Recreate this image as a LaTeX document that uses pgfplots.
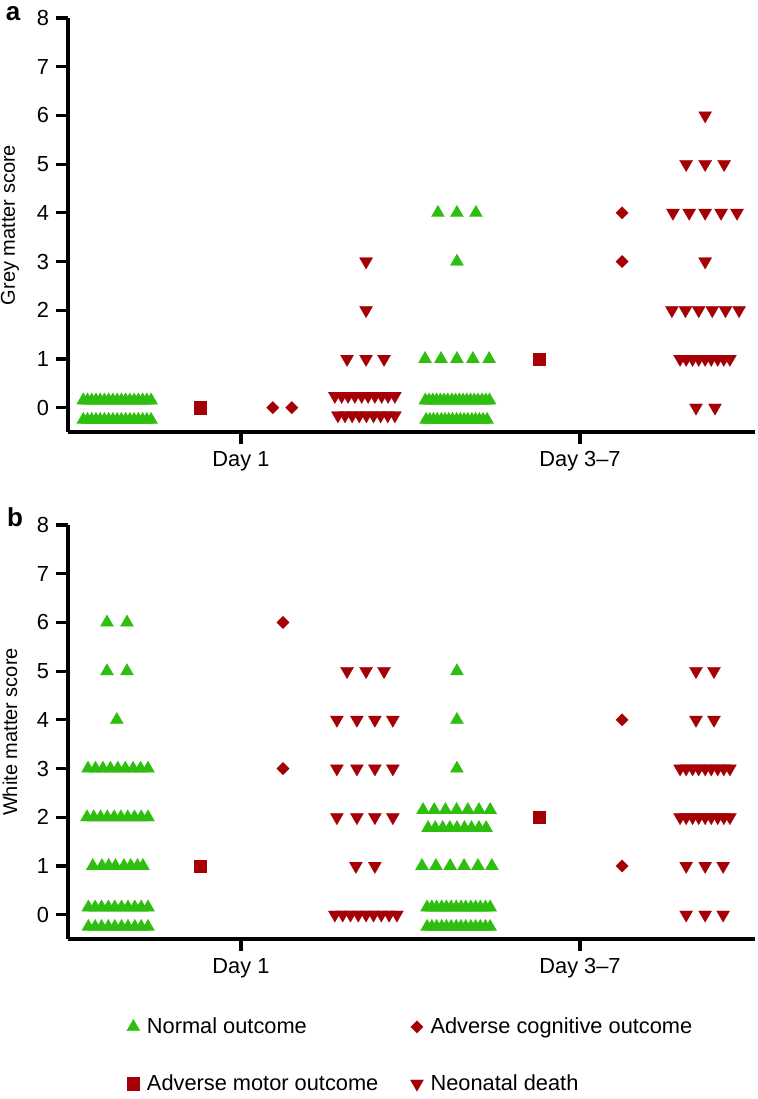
\documentclass[border=0pt]{standalone}
\usepackage{fontspec}
\setmainfont{Liberation Sans}
\usepackage{pgfplots}
\pgfplotsset{compat=1.18}
\definecolor{cgreen}{RGB}{45,190,15}
\definecolor{cred}{RGB}{165,0,5}
\pgfplotsset{
  myaxis/.style={
    scale only axis, width=343.5pt, height=207pt,
    xmin=-0.51, xmax=1.516, ymin=-0.5, ymax=8,
    axis x line=bottom, axis y line=left,
    axis line style={line width=1.6pt, -},
    x axis line style={line width=1.6pt, -},
    y axis line style={line width=1.6pt, -},
    every tick/.style={black, line width=1.6pt},
    major tick style={black, line width=1.6pt},
    tick align=outside, major tick length=6pt,
    ytick={0,1,...,8}, xtick={0,1}, xticklabels={Day 1, Day 3--7},
    /pgf/number format/assume math mode=true,
    tick label style={font=\fontsize{10.9}{13}\selectfont},
    label style={font=\fontsize{11.6}{13}\selectfont},
    every axis y label/.style={at={(axis description cs:-0.0844,0.5)}, rotate=90, anchor=center},
    clip=false,
  },
  normal/.style={only marks, mark=triangle*, mark size=3.8pt, color=cgreen, mark options={fill=cgreen, draw=cgreen, line width=0.1pt}},
  death/.style={only marks, mark=triangle*, mark size=3.8pt, color=cred, mark options={rotate=180, fill=cred, draw=cred, line width=0.1pt}},
  motor/.style={only marks, mark=square*, mark size=3.1pt, color=cred, mark options={fill=cred, draw=cred, line width=0.1pt}},
  cog/.style={only marks, mark=square*, mark size=2.2pt, color=cred, mark options={rotate=45, fill=cred, draw=cred, line width=0.1pt}},
}
\begin{document}
\begin{tikzpicture}
\useasboundingbox (0,0) rectangle (378.5pt,-549.5pt);
\node[font=\bfseries\fontsize{13}{15}\selectfont, inner sep=0pt, anchor=base] at (6.5pt,-10pt) {a};
\node[font=\bfseries\fontsize{13}{15}\selectfont, inner sep=0pt, anchor=base] at (7.5pt,-263pt) {b};
% ---------------- Panel a
\begin{axis}[myaxis, at={(34pt,-216pt)}, anchor=south west, ylabel={Grey matter score}]
\addplot[normal] table {
x y
-0.465 0.15
-0.4525 0.15
-0.44 0.15
-0.4275 0.15
-0.415 0.15
-0.4025 0.15
-0.39 0.15
-0.3775 0.15
-0.365 0.15
-0.3525 0.15
-0.34 0.15
-0.3275 0.15
-0.315 0.15
-0.3025 0.15
-0.29 0.15
-0.2775 0.15
-0.265 0.15
-0.465 -0.25
-0.4525 -0.25
-0.44 -0.25
-0.4275 -0.25
-0.415 -0.25
-0.4025 -0.25
-0.39 -0.25
-0.3775 -0.25
-0.365 -0.25
-0.3525 -0.25
-0.34 -0.25
-0.3275 -0.25
-0.315 -0.25
-0.3025 -0.25
-0.29 -0.25
-0.2775 -0.25
-0.265 -0.25
0.581 4
0.637 4
0.693 4
0.637 3
0.543 1
0.590 1
0.637 1
0.684 1
0.732 1
0.544 0.15
0.555 0.15
0.566 0.15
0.577 0.15
0.588 0.15
0.599 0.15
0.610 0.15
0.622 0.15
0.633 0.15
0.644 0.15
0.655 0.15
0.666 0.15
0.677 0.15
0.688 0.15
0.699 0.15
0.711 0.15
0.722 0.15
0.733 0.15
0.546 -0.25
0.557 -0.25
0.568 -0.25
0.579 -0.25
0.591 -0.25
0.602 -0.25
0.613 -0.25
0.624 -0.25
0.636 -0.25
0.647 -0.25
0.658 -0.25
0.669 -0.25
0.681 -0.25
0.692 -0.25
0.703 -0.25
0.714 -0.25
0.726 -0.25
};
\addplot[cog] table {
x y
0.094 0
0.150 0
1.124 4
1.124 3
};
\addplot[motor] table {
x y
-0.12 0
0.879 1
};
\addplot[death] table {
x y
0.369 3
0.369 2
0.313 1
0.369 1
0.422 1
0.277 0.24
0.297 0.24
0.316 0.24
0.336 0.24
0.356 0.24
0.375 0.24
0.395 0.24
0.415 0.24
0.434 0.24
0.454 0.24
0.286 -0.16
0.307 -0.16
0.328 -0.16
0.349 -0.16
0.370 -0.16
0.391 -0.16
0.412 -0.16
0.433 -0.16
0.454 -0.16
1.369 6
1.313 5
1.369 5
1.425 5
1.274 4
1.322 4
1.369 4
1.416 4
1.463 4
1.369 3
1.271 2
1.311 2
1.350 2
1.390 2
1.429 2
1.469 2
1.295 1
1.313 1
1.332 1
1.350 1
1.369 1
1.387 1
1.406 1
1.424 1
1.442 1
1.342 0
1.398 0
};
\end{axis}
% ---------------- Panel b
\begin{axis}[myaxis, at={(34pt,-469.5pt)}, anchor=south west, ylabel={White matter score},
  legend columns=2,
  legend style={draw=none, fill=none, at={(0.085,-0.179)}, anchor=north west, inner sep=0pt,
    font=\fontsize{10.9}{13}\selectfont, row sep=15pt,
    /tikz/every even column/.append style={column sep=14pt},
    /tikz/every odd column/.append style={column sep=1.5pt}},
  legend cell align=left]
\addplot[normal] table {
x y
-0.395 6
-0.336 6
-0.395 5
-0.336 5
-0.366 4
-0.451 3
-0.429 3
-0.407 3
-0.385 3
-0.363 3
-0.341 3
-0.318 3
-0.296 3
-0.274 3
-0.454 2
-0.434 2
-0.414 2
-0.394 2
-0.374 2
-0.354 2
-0.334 2
-0.314 2
-0.294 2
-0.274 2
-0.437 1
-0.410 1
-0.390 1
-0.370 1
-0.345 1
-0.325 1
-0.305 1
-0.289 1
-0.450 0.15
-0.430 0.15
-0.411 0.15
-0.391 0.15
-0.372 0.15
-0.352 0.15
-0.333 0.15
-0.313 0.15
-0.294 0.15
-0.274 0.15
-0.450 -0.25
-0.430 -0.25
-0.411 -0.25
-0.391 -0.25
-0.372 -0.25
-0.352 -0.25
-0.333 -0.25
-0.313 -0.25
-0.294 -0.25
-0.274 -0.25
0.637 5
0.637 4
0.637 3
0.537 2.15
0.570 2.15
0.603 2.15
0.636 2.15
0.669 2.15
0.702 2.15
0.735 2.15
0.552 1.78
0.573 1.78
0.595 1.78
0.616 1.78
0.637 1.78
0.659 1.78
0.680 1.78
0.702 1.78
0.723 1.78
0.534 1
0.575 1
0.617 1
0.658 1
0.699 1
0.740 1
0.549 0.15
0.563 0.15
0.577 0.15
0.592 0.15
0.606 0.15
0.620 0.15
0.635 0.15
0.649 0.15
0.663 0.15
0.678 0.15
0.692 0.15
0.706 0.15
0.721 0.15
0.735 0.15
0.549 -0.25
0.563 -0.25
0.577 -0.25
0.592 -0.25
0.606 -0.25
0.620 -0.25
0.635 -0.25
0.649 -0.25
0.663 -0.25
0.678 -0.25
0.692 -0.25
0.706 -0.25
0.721 -0.25
0.735 -0.25
};
\addlegendentry{Normal outcome}
\addplot[cog] table {
x y
0.124 6
0.124 3
1.124 4
1.124 1
};
\addlegendentry{Adverse cognitive outcome}
\addplot[motor] table {
x y
-0.121 1
0.879 2
};
\addlegendentry{Adverse motor outcome}
\addplot[death] table {
x y
0.313 5
0.369 5
0.422 5
0.283 4
0.342 4
0.395 4
0.448 4
0.283 3
0.342 3
0.395 3
0.448 3
0.283 2
0.342 2
0.395 2
0.448 2
0.339 1
0.395 1
0.277 0
0.300 0
0.323 0
0.346 0
0.369 0
0.391 0
0.414 0
0.437 0
0.460 0
1.342 5
1.395 5
1.342 4
1.395 4
1.295 3
1.313 3
1.332 3
1.350 3
1.369 3
1.387 3
1.406 3
1.424 3
1.442 3
1.295 2
1.313 2
1.332 2
1.350 2
1.369 2
1.387 2
1.406 2
1.424 2
1.442 2
1.313 1
1.369 1
1.422 1
1.313 0
1.369 0
1.422 0
};
\addlegendentry{Neonatal death}
\end{axis}
\end{tikzpicture}
\end{document}
